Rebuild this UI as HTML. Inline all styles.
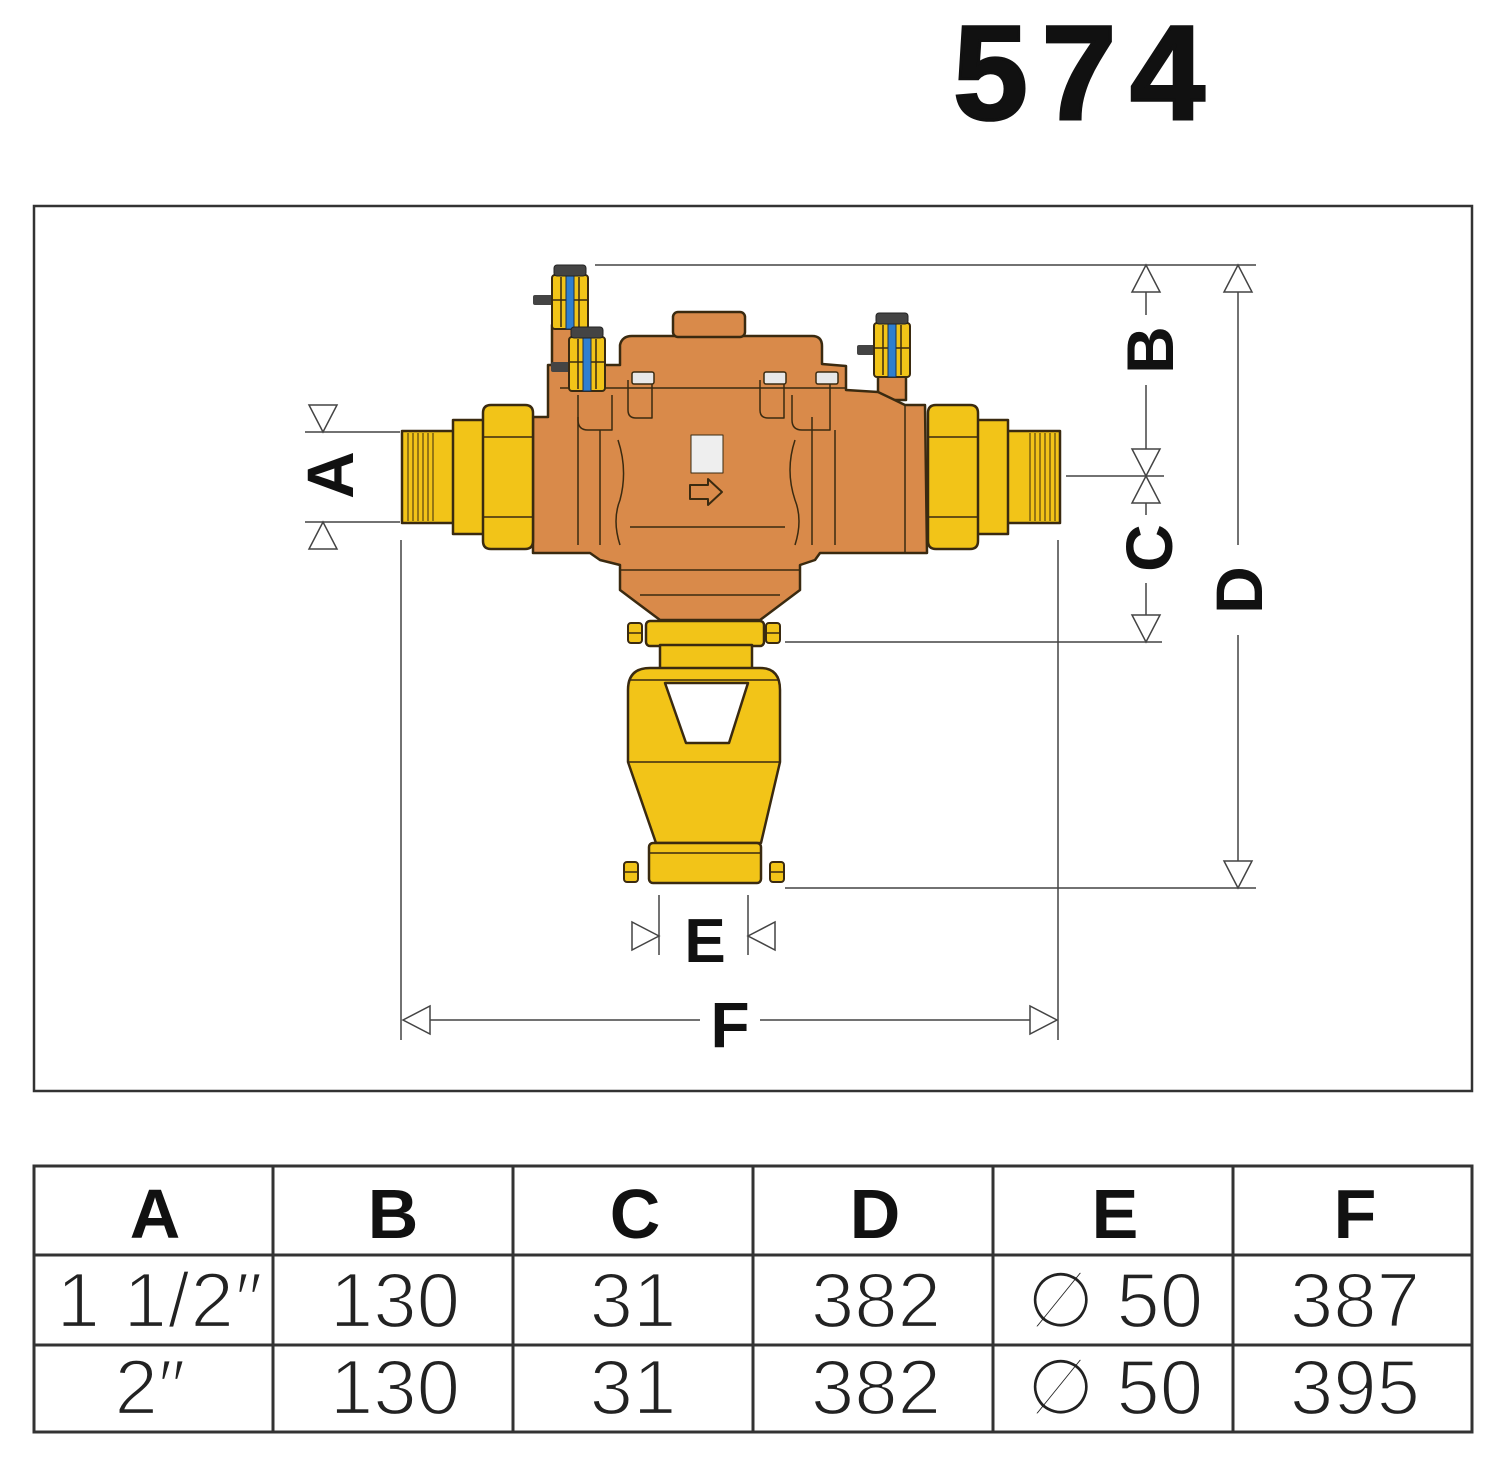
<!DOCTYPE html>
<html><head><meta charset="utf-8"><style>
html,body{margin:0;padding:0;background:#fff;}
svg{display:block;}
text{font-family:"Liberation Sans",sans-serif;}
</style></head><body>
<svg width="1500" height="1463" viewBox="0 0 1500 1463" xmlns="http://www.w3.org/2000/svg">
<defs>
<g id="cock">
  <rect x="0" y="10" width="36" height="54" rx="3" fill="#f2c418" stroke="#3a2a10" stroke-width="2"/>
  <line x1="9" y1="12" x2="9" y2="62" stroke="#3a2a10" stroke-width="1.5"/>
  <line x1="27" y1="12" x2="27" y2="62" stroke="#3a2a10" stroke-width="1.5"/>
  <line x1="1" y1="35" x2="35" y2="35" stroke="#3a2a10" stroke-width="1.5"/>
  <rect x="14" y="8" width="8" height="56" fill="#2f7fd0" stroke="#1a3050" stroke-width="1"/>
  <rect x="2" y="0" width="32" height="11" rx="3" fill="#444" stroke="#222" stroke-width="1"/>
</g>
<g id="bolt">
  <rect x="0" y="0" width="14" height="20" rx="3" fill="#f2c418" stroke="#3a2a10" stroke-width="2"/>
  <line x1="1" y1="10" x2="13" y2="10" stroke="#3a2a10" stroke-width="1.5"/>
</g>
</defs>

<text x="1086" y="119" font-size="134" font-weight="bold" text-anchor="middle" letter-spacing="14" fill="#111" stroke="#111" stroke-width="3">574</text>

<rect x="34" y="206" width="1438" height="885" fill="none" stroke="#333" stroke-width="2.5"/>

<g stroke="#444" stroke-width="1.5" fill="#fff">
  <line x1="595" y1="265" x2="1256" y2="265"/>
  <line x1="1066" y1="476" x2="1164" y2="476"/>
  <line x1="785" y1="642" x2="1162" y2="642"/>
  <line x1="785" y1="888" x2="1256" y2="888"/>
  <line x1="1146" y1="292" x2="1146" y2="315"/>
  <line x1="1146" y1="385" x2="1146" y2="449"/>
  <line x1="1146" y1="503" x2="1146" y2="515"/>
  <line x1="1146" y1="583" x2="1146" y2="615"/>
  <line x1="1238" y1="292" x2="1238" y2="545"/>
  <line x1="1238" y1="635" x2="1238" y2="861"/>
  <polygon points="1146,265 1132,292 1160,292"/>
  <polygon points="1146,476 1132,449 1160,449"/>
  <polygon points="1146,476 1132,503 1160,503"/>
  <polygon points="1146,642 1132,615 1160,615"/>
  <polygon points="1238,265 1224,292 1252,292"/>
  <polygon points="1238,888 1224,861 1252,861"/>
  <line x1="305" y1="432" x2="400" y2="432"/>
  <line x1="305" y1="522" x2="400" y2="522"/>
  <polygon points="323,432 309,405 337,405"/>
  <polygon points="323,522 309,549 337,549"/>
  <line x1="401" y1="540" x2="401" y2="1040"/>
  <line x1="1058" y1="540" x2="1058" y2="1040"/>
  <line x1="430" y1="1020" x2="700" y2="1020"/>
  <line x1="760" y1="1020" x2="1030" y2="1020"/>
  <polygon points="403,1020 430,1006 430,1034"/>
  <polygon points="1057,1020 1030,1006 1030,1034"/>
  <line x1="659" y1="895" x2="659" y2="955"/>
  <line x1="748" y1="895" x2="748" y2="955"/>
  <polygon points="659,936 632,922 632,950"/>
  <polygon points="748,936 775,922 775,950"/>
</g>
<g font-weight="bold" fill="#111" font-size="66">
  <text transform="translate(353,475) rotate(-90)" text-anchor="middle">A</text>
  <text transform="translate(1173,350) rotate(-90)" text-anchor="middle">B</text>
  <text transform="translate(1172,548) rotate(-90)" text-anchor="middle">C</text>
  <text transform="translate(1262,590) rotate(-90)" text-anchor="middle">D</text>
  <text x="705" y="962" text-anchor="middle" font-size="62">E</text>
  <text x="730" y="1047" text-anchor="middle" font-size="64">F</text>
</g>

<g stroke="#3a2a10" stroke-width="2.5" stroke-linejoin="round">
  <rect x="552" y="325" width="24" height="70" fill="#d98a4a"/>
  <rect x="878" y="370" width="28" height="30" fill="#d98a4a"/>
  <path d="M548,388 L548,365 L620,365 L620,345 Q622,336 632,336 L812,336 Q822,336 822,346 L822,364 L846,366 L846,390 L878,392 L905,405 L925,405 L927,553 L820,553 L815,560 L800,565 L800,590 L760,620 L660,620 L620,590 L620,565 L600,560 L590,553 L533,553 L533,417 L548,417 Z" fill="#d98a4a"/>
  <rect x="673" y="312" width="72" height="25" rx="5" fill="#d98a4a"/>
  <g fill="none" stroke-width="1.5">
    <line x1="560" y1="388" x2="846" y2="388"/>
    <line x1="578" y1="417" x2="578" y2="545"/>
    <line x1="600" y1="430" x2="600" y2="545"/>
    <line x1="835" y1="430" x2="835" y2="545"/>
    <line x1="812" y1="417" x2="812" y2="545"/>
    <line x1="905" y1="405" x2="905" y2="553"/>
    <path d="M618,440 Q628,470 620,500 Q612,520 620,545"/>
    <path d="M795,440 Q785,470 795,500 Q803,520 795,545"/>
    <line x1="630" y1="527" x2="785" y2="527"/>
    <line x1="620" y1="570" x2="800" y2="570"/>
    <line x1="640" y1="595" x2="780" y2="595"/>
    <path d="M578,395 L578,420 Q578,430 588,430 L612,430 L612,395"/>
    <path d="M628,380 L628,410 Q628,418 636,418 L652,418 L652,380"/>
    <path d="M760,380 L760,410 Q760,418 768,418 L784,418 L784,380"/>
    <path d="M792,395 L792,420 Q792,430 802,430 L830,430 L830,380"/>
  </g>
  <g fill="#e8e8e8" stroke-width="1.5">
    <rect x="632" y="372" width="22" height="12" rx="2"/>
    <rect x="764" y="372" width="22" height="12" rx="2"/>
    <rect x="816" y="372" width="22" height="12" rx="2"/>
  </g>
  <rect x="691" y="435" width="32" height="38" fill="#eee" stroke-width="1"/>
  <path d="M690,485 L708,485 L708,479 L722,492 L708,505 L708,499 L690,499 Z" fill="none" stroke-width="2"/>
  <rect x="402" y="431" width="53" height="92" fill="#f2c418"/>
  <g stroke-width="1" fill="none">
    <line x1="408" y1="433" x2="408" y2="521"/><line x1="413" y1="433" x2="413" y2="521"/>
    <line x1="418" y1="433" x2="418" y2="521"/><line x1="423" y1="433" x2="423" y2="521"/>
    <line x1="428" y1="433" x2="428" y2="521"/><line x1="433" y1="433" x2="433" y2="521"/>
  </g>
  <rect x="453" y="420" width="32" height="114" fill="#f2c418"/>
  <path d="M483,413 Q483,405 491,405 L525,405 Q533,405 533,413 L533,541 Q533,549 525,549 L491,549 Q483,549 483,541 Z" fill="#f2c418"/>
  <g stroke-width="1.5"><line x1="483" y1="437" x2="533" y2="437"/><line x1="483" y1="517" x2="533" y2="517"/></g>
  <rect x="1005" y="431" width="55" height="92" fill="#f2c418"/>
  <g stroke-width="1" fill="none">
    <line x1="1030" y1="433" x2="1030" y2="521"/><line x1="1035" y1="433" x2="1035" y2="521"/>
    <line x1="1040" y1="433" x2="1040" y2="521"/><line x1="1045" y1="433" x2="1045" y2="521"/>
    <line x1="1050" y1="433" x2="1050" y2="521"/><line x1="1055" y1="433" x2="1055" y2="521"/>
  </g>
  <rect x="976" y="420" width="32" height="114" fill="#f2c418"/>
  <path d="M928,413 Q928,405 936,405 L970,405 Q978,405 978,413 L978,541 Q978,549 970,549 L936,549 Q928,549 928,541 Z" fill="#f2c418"/>
  <g stroke-width="1.5"><line x1="928" y1="437" x2="978" y2="437"/><line x1="928" y1="517" x2="978" y2="517"/></g>
  <use href="#bolt" x="628" y="623"/>
  <use href="#bolt" x="766" y="623"/>
  <rect x="646" y="621" width="118" height="25" rx="4" fill="#f2c418"/>
  <rect x="660" y="645" width="92" height="24" fill="#f2c418"/>
  <path d="M628,690 Q628,668 650,668 L760,668 Q780,668 780,690 L780,762 L761,843 L656,843 L628,762 Z" fill="#f2c418"/>
  <line x1="630" y1="680" x2="778" y2="680" stroke-width="1.5"/>
  <line x1="628" y1="762" x2="780" y2="762" stroke-width="1.5"/>
  <path d="M665,683 L748,683 L729,743 L686,743 Z" fill="#fff"/>
  <use href="#bolt" x="624" y="862"/>
  <use href="#bolt" x="770" y="862"/>
  <rect x="649" y="843" width="112" height="40" rx="4" fill="#f2c418"/>
  <line x1="650" y1="853" x2="760" y2="853" stroke-width="1.5"/>
</g>
<rect x="533" y="295" width="20" height="10" fill="#444" rx="2"/>
<use href="#cock" x="552" y="265"/>
<rect x="551" y="362" width="20" height="10" fill="#444" rx="2"/>
<use href="#cock" x="569" y="327"/>
<rect x="857" y="345" width="20" height="10" fill="#444" rx="2"/>
<use href="#cock" x="874" y="313"/>

<g stroke="#333" stroke-width="3" fill="none">
  <rect x="34" y="1166" width="1438" height="266"/>
  <line x1="34" y1="1255" x2="1472" y2="1255"/>
  <line x1="34" y1="1345" x2="1472" y2="1345"/>
  <line x1="273" y1="1166" x2="273" y2="1432"/>
  <line x1="513" y1="1166" x2="513" y2="1432"/>
  <line x1="753" y1="1166" x2="753" y2="1432"/>
  <line x1="993" y1="1166" x2="993" y2="1432"/>
  <line x1="1233" y1="1166" x2="1233" y2="1432"/>
</g>
<g font-weight="bold" font-size="70" text-anchor="middle" fill="#111">
  <text x="155" y="1238">A</text><text x="393" y="1238">B</text><text x="635" y="1238">C</text>
  <text x="875" y="1238">D</text><text x="1115" y="1238">E</text><text x="1355" y="1238">F</text>
</g>
<g font-size="78" text-anchor="middle" fill="#222" stroke="#fff" stroke-width="2.2">
  <text x="160" y="1327" letter-spacing="1">1 1/2″</text><text x="395" y="1327">130</text><text x="633" y="1327">31</text>
  <text x="876" y="1327">382</text><text x="1115" y="1327">∅ 50</text><text x="1355" y="1327">387</text>
  <text x="150" y="1414">2″</text><text x="395" y="1414">130</text><text x="633" y="1414">31</text>
  <text x="876" y="1414">382</text><text x="1115" y="1414">∅ 50</text><text x="1355" y="1414">395</text>
</g>
</svg>
</body></html>
